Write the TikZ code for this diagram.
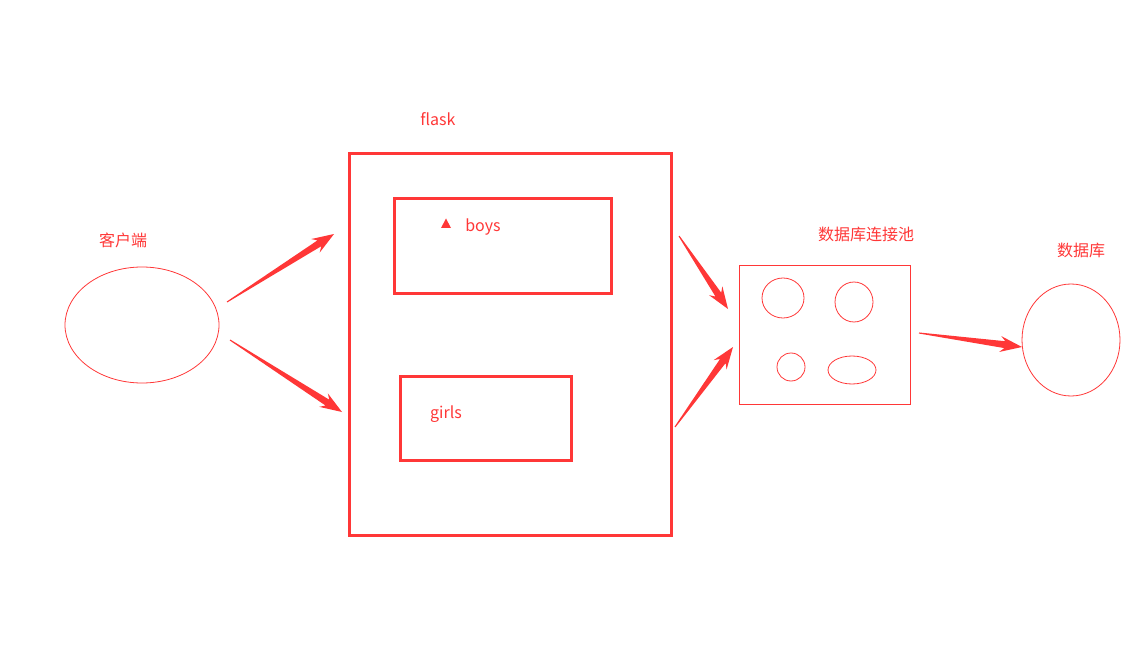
\documentclass[tikz,border=0pt]{standalone}
\usepackage{fontspec}
\setmainfont{Noto Sans CJK SC}
\usetikzlibrary{calc,shapes.geometric}
\definecolor{ared}{RGB}{255,55,55}
\tikzset{
  box/.style={draw=ared,line width=2.25pt,inner sep=0pt},
  pool/.style={draw=ared,line width=0.75pt,inner sep=0pt},
  oval/.style={ellipse,draw=ared,line width=0.6pt,inner sep=0pt},
  lbl/.style={font=\fontsize{12pt}{14pt}\selectfont,text=ared,inner sep=0pt},
}
% tapered arrow, thin tail to a barbed head
\newcommand\fatarrow[2]{%
  \fill[ared] ($(#1)!0.4pt!90:(#2)$)
    -- ($(#2)!13pt!(#1)!2.6pt!-90:(#1)$)
    -- ($(#2)!16.5pt!(#1)!6pt!-90:(#1)$)
    -- (#2)
    -- ($(#2)!16.5pt!(#1)!6pt!90:(#1)$)
    -- ($(#2)!13pt!(#1)!2.6pt!90:(#1)$)
    -- ($(#1)!0.4pt!-90:(#2)$) -- cycle;}
\begin{document}
\begin{tikzpicture}[x=0.75pt,y=-0.75pt]
\useasboundingbox (0,0) rectangle (1146,649);
\node[oval,minimum width=115.5pt,minimum height=87pt] (client) at (142,325) {};
\node[lbl] (clientlbl) at (123,240.5) {客户端};
\node[box,minimum width=241.5pt,minimum height=285.75pt] (flask) at (510,344.5) {};
\node[lbl] (flasklbl) at (438,119.5) {flask};
\node[box,minimum width=162.75pt,minimum height=70.5pt] (boys) at (502.5,246) {};
\fill[ared] (441,228) -- (451,228) -- (446,218.5) -- cycle;
\node[lbl] (boyslbl) at (483,227) {boys};
\node[box,minimum width=128.25pt,minimum height=63pt] (girls) at (485.5,418) {};
\node[lbl] (girlslbl) at (446,414) {girls};
\node[pool,minimum width=128.25pt,minimum height=104.25pt] (pool) at (824.5,334.5) {};
\node[lbl] (poollbl) at (866,234.5) {数据库连接池};
\node[oval,minimum width=31.5pt,minimum height=30pt] (conn1) at (783,298) {};
\node[oval,minimum width=28.5pt,minimum height=30pt] (conn2) at (854,302) {};
\node[oval,minimum width=21pt,minimum height=21pt] (conn3) at (791,367) {};
\node[oval,minimum width=36pt,minimum height=21pt] (conn4) at (852,370) {};
\node[oval,minimum width=73.5pt,minimum height=84pt] (db) at (1071,340) {};
\node[lbl] (dblbl) at (1081,250.5) {数据库};
% arrow ends
\coordinate (c1s) at (227,302);
\coordinate (c1e) at (334,234);
\coordinate (c2s) at (230,340);
\coordinate (c2e) at (342,412);
\coordinate (f1s) at (679,236);
\coordinate (f1e) at (728,309);
\coordinate (f2s) at (675,427);
\coordinate (f2e) at (733,347);
\coordinate (p1s) at (919,333);
\coordinate (p1e) at (1022,347);
\fatarrow{c1s}{c1e}
\fatarrow{c2s}{c2e}
\fatarrow{f1s}{f1e}
\fatarrow{f2s}{f2e}
\fatarrow{p1s}{p1e}
\end{tikzpicture}
\end{document}
